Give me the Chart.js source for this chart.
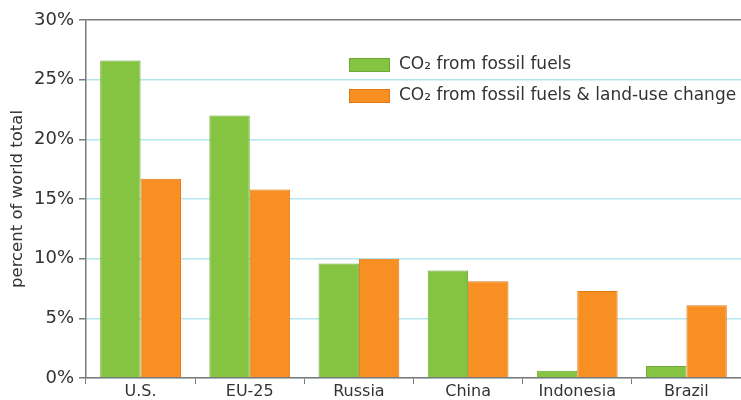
<!DOCTYPE html>
<html>
<head>
<meta charset="utf-8">
<script src="https://cdn.jsdelivr.net/npm/chart.js@4"></script>
<style>
  html, body { margin: 0; padding: 0; background: #fff; }
  #wrap { width: 741px; height: 400px; }
</style>
</head>
<body>
<div id="wrap"><canvas id="co2-chart" width="741" height="400"></canvas></div>
<script>
const countries = ['U.S.', 'EU-25', 'Russia', 'China', 'Indonesia', 'Brazil'];
const fossil = [26.6, 22.0, 9.6, 9.0, 0.6, 1.0];
const fossilLandUse = [16.7, 15.8, 10.0, 8.1, 7.3, 6.1];
const seriesNames = ['CO\u2082 from fossil fuels', 'CO\u2082 from fossil fuels & land-use change'];
const yTicks = [0, 5, 10, 15, 20, 25, 30];

const fontFam = '"DejaVu Sans", sans-serif';
const axisGray = '#7a7a7a';

// legend drawn inside the plot area, top right
const insideLegend = {
  id: 'insideLegend',
  afterDraw(chart) {
    const ctx = chart.ctx;
    const area = chart.chartArea;
    const x0 = area.left + 263;
    let y = area.top + 45;
    ctx.save();
    chart.data.datasets.forEach(ds => {
      ctx.fillStyle = ds.backgroundColor;
      ctx.strokeStyle = ds.borderColor;
      ctx.lineWidth = 1;
      ctx.fillRect(x0, y - 7, 41, 14);
      ctx.strokeRect(x0 + 0.5, y - 6.5, 40, 13);
      ctx.fillStyle = '#333';
      ctx.font = '17px ' + fontFam;
      ctx.textBaseline = 'middle';
      ctx.fillText(ds.label, x0 + 50, y);
      y += 31;
    });
    ctx.restore();
  }
};

new Chart(document.getElementById('co2-chart'), {
  type: 'bar',
  data: {
    labels: countries,
    datasets: [
      {
        label: seriesNames[0],
        data: fossil,
        backgroundColor: '#85c441',
        borderColor: '#6fa936',
        borderWidth: 1,
        categoryPercentage: 0.74,
        barPercentage: 1.0
      },
      {
        label: seriesNames[1],
        data: fossilLandUse,
        backgroundColor: '#f88f22',
        borderColor: '#e07a12',
        borderWidth: 1,
        categoryPercentage: 0.74,
        barPercentage: 1.0
      }
    ]
  },
  options: {
    responsive: false,
    animation: false,
    layout: { padding: { top: 20, right: 0, bottom: 0, left: 0 } },
    plugins: {
      legend: { display: false },
      tooltip: { enabled: false }
    },
    scales: {
      x: {
        offset: true,
        afterFit(axis) { axis.height = 22; },
        grid: {
          offset: true,
          drawOnChartArea: false,
          drawTicks: true,
          tickLength: 6,
          tickColor: axisGray
        },
        border: { color: axisGray, width: 1.5 },
        ticks: {
          color: '#333',
          font: { family: fontFam, size: 16 },
          padding: -2
        }
      },
      y: {
        min: 0,
        max: 30,
        afterBuildTicks(axis) {
          axis.ticks = yTicks.map(v => ({ value: v }));
        },
        afterFit(axis) { axis.width = 86; },
        grid: {
          color: ctx => (ctx.tick && ctx.tick.value === 30) ? axisGray : '#b3e6ee',
          lineWidth: 1.5,
          tickLength: 7,
          tickColor: axisGray
        },
        border: { color: axisGray, width: 1.5 },
        ticks: {
          color: '#333',
          font: { family: fontFam, size: 18 },
          padding: 5,
          callback: v => v + '%'
        },
        title: {
          display: true,
          text: 'percent of world total',
          color: '#333',
          font: { family: fontFam, size: 16.5 },
          padding: { top: 8, bottom: 0 }
        }
      }
    }
  },
  plugins: [insideLegend]
});
</script>
</body>
</html>
